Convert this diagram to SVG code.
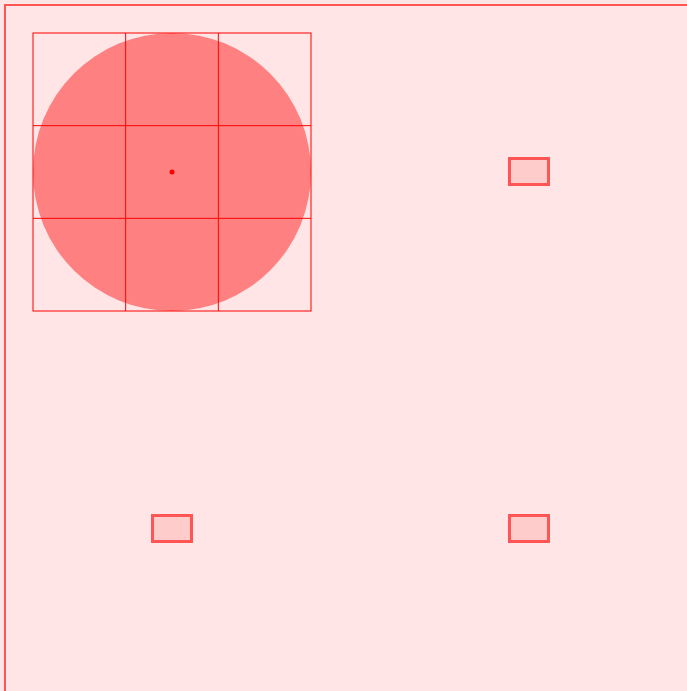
<svg xmlns="http://www.w3.org/2000/svg" width="687" height="691" viewBox="0 0 687 691">
<style>
.grid{fill:none;stroke:#ff0000;stroke-width:1}
.box{fill:#ffcccc;stroke:#ff5555;stroke-width:3}
</style>
<rect x="0" y="0" width="687" height="691" fill="#ffe5e5"/>
<rect x="5" y="5" width="700" height="700" fill="#ffe5e5" stroke="#ff5555" stroke-width="2"/>
<g id="circle-node">
<circle cx="172" cy="172" r="139" fill="#ff8080"/>
<g class="grid">
<rect x="33" y="33" width="278" height="278"/>
<line x1="125.67" y1="33" x2="125.67" y2="311"/>
<line x1="218.33" y1="33" x2="218.33" y2="311"/>
<line x1="33" y1="125.67" x2="311" y2="125.67"/>
<line x1="33" y1="218.33" x2="311" y2="218.33"/>
</g>
<circle cx="172" cy="172" r="2.5" fill="#ff0000"/>
</g>
<g id="box1"><rect class="box" x="509.5" y="158.5" width="39" height="26"/></g>
<g id="box2"><rect class="box" x="152.5" y="515.5" width="39" height="26"/></g>
<g id="box3"><rect class="box" x="509.5" y="515.5" width="39" height="26"/></g>
<g id="connectors"></g>
</svg>
